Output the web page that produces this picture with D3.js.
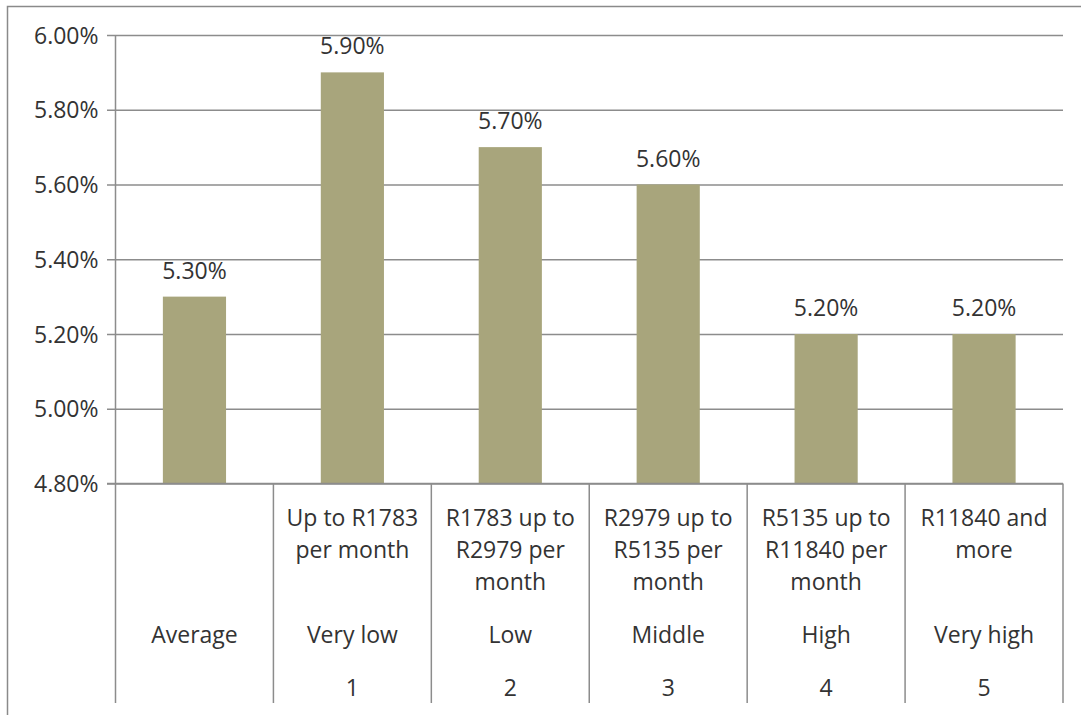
<!DOCTYPE html>
<html>
<head>
<meta charset="utf-8">
<script src="https://cdn.jsdelivr.net/npm/d3@7"></script>
<style>
  body { margin: 0; background: #fff; }
  svg text { font-family: "Open Sans", sans-serif; fill: #333; }
</style>
</head>
<body>
<svg id="chart"></svg>
<script>
// values
const categories = ["Average", "Very low", "Low", "Middle", "High", "Very high"];
const values = [5.3, 5.9, 5.7, 5.6, 5.2, 5.2];
const incomeLabels = [
  [],
  ["Up to R1783", "per month"],
  ["R1783 up to", "R2979 per", "month"],
  ["R2979 up to", "R5135 per", "month"],
  ["R5135 up to", "R11840 per", "month"],
  ["R11840 and", "more"]
];
const rankLabels = ["", "1", "2", "3", "4", "5"];
const yTicks = [4.8, 5.0, 5.2, 5.4, 5.6, 5.8, 6.0];

const W = 1081, H = 715;
const plot = { left: 115.5, right: 1063, top: 35, bottom: 483.5 };
const catBottom = 703;

const svg = d3.select("#chart").attr("width", W).attr("height", H);

// outer frame (runs off the right and bottom edge like in the picture)
svg.append("rect")
  .attr("x", 7.5).attr("y", 6.5)
  .attr("width", W + 10).attr("height", H + 10)
  .attr("fill", "none")
  .attr("stroke", "#8a8a8a")
  .attr("stroke-width", 1.5);

const x = d3.scaleBand()
  .domain(categories)
  .range([plot.left, plot.right])
  .paddingInner(0.6)
  .paddingOuter(0.3);

const y = d3.scaleLinear()
  .domain([4.8, 6.0])
  .range([plot.bottom, plot.top]);

// gridlines + ticks
const yAxis = d3.axisLeft(y)
  .tickValues(yTicks)
  .tickSize(-(plot.right - plot.left))
  .tickPadding(17)
  .tickFormat(d => d.toFixed(2) + "%");

const gy = svg.append("g")
  .attr("transform", `translate(${plot.left},0)`)
  .call(yAxis);
gy.select(".domain").remove();
gy.selectAll(".tick line")
  .attr("x1", -8.5)
  .attr("stroke", "#8c8c8c")
  .attr("stroke-width", 1.5);
gy.selectAll(".tick text")
  .attr("font-size", 23)
  .attr("dy", "0.35em")
  .style("fill", "#333");

// vertical axis line
svg.append("line")
  .attr("x1", plot.left).attr("x2", plot.left)
  .attr("y1", plot.top).attr("y2", catBottom)
  .attr("stroke", "#8c8c8c").attr("stroke-width", 1.5);

// category separators
const step = x.step();
const bounds = d3.range(1, categories.length + 1).map(i => plot.left + i * step);
svg.append("g").selectAll("line")
  .data(bounds)
  .join("line")
  .attr("x1", d => d).attr("x2", d => d)
  .attr("y1", plot.bottom).attr("y2", catBottom)
  .attr("stroke", "#8c8c8c").attr("stroke-width", 1.5);

// bars
svg.append("g").selectAll("rect")
  .data(values)
  .join("rect")
  .attr("x", (d, i) => x(categories[i]))
  .attr("width", x.bandwidth())
  .attr("y", d => y(d))
  .attr("height", d => plot.bottom - y(d))
  .attr("fill", "#a8a57c");

// redraw the base line on top of the bars
svg.append("line")
  .attr("x1", plot.left - 8.5).attr("x2", plot.right)
  .attr("y1", plot.bottom).attr("y2", plot.bottom)
  .attr("stroke", "#8c8c8c").attr("stroke-width", 1.5);

// data labels
svg.append("g").selectAll("text")
  .data(values)
  .join("text")
  .attr("x", (d, i) => x(categories[i]) + x.bandwidth() / 2)
  .attr("y", d => y(d) - 18)
  .attr("text-anchor", "middle")
  .attr("font-size", 23)
  .text(d => d.toFixed(2) + "%");

// category axis, three rows
const cx = i => x(categories[i]) + x.bandwidth() / 2;

incomeLabels.forEach((lines, i) => {
  svg.append("text")
    .attr("x", cx(i))
    .attr("y", 526)
    .attr("text-anchor", "middle")
    .attr("font-size", 23)
    .selectAll("tspan")
    .data(lines)
    .join("tspan")
    .attr("x", cx(i))
    .attr("dy", (d, j) => j === 0 ? 0 : 32)
    .text(d => d);
});

svg.append("g").selectAll("text")
  .data(categories)
  .join("text")
  .attr("x", (d, i) => cx(i))
  .attr("y", 643)
  .attr("text-anchor", "middle")
  .attr("font-size", 23)
  .text(d => d);

svg.append("g").selectAll("text")
  .data(rankLabels)
  .join("text")
  .attr("x", (d, i) => cx(i))
  .attr("y", 696)
  .attr("text-anchor", "middle")
  .attr("font-size", 23)
  .text(d => d);
</script>
</body>
</html>
